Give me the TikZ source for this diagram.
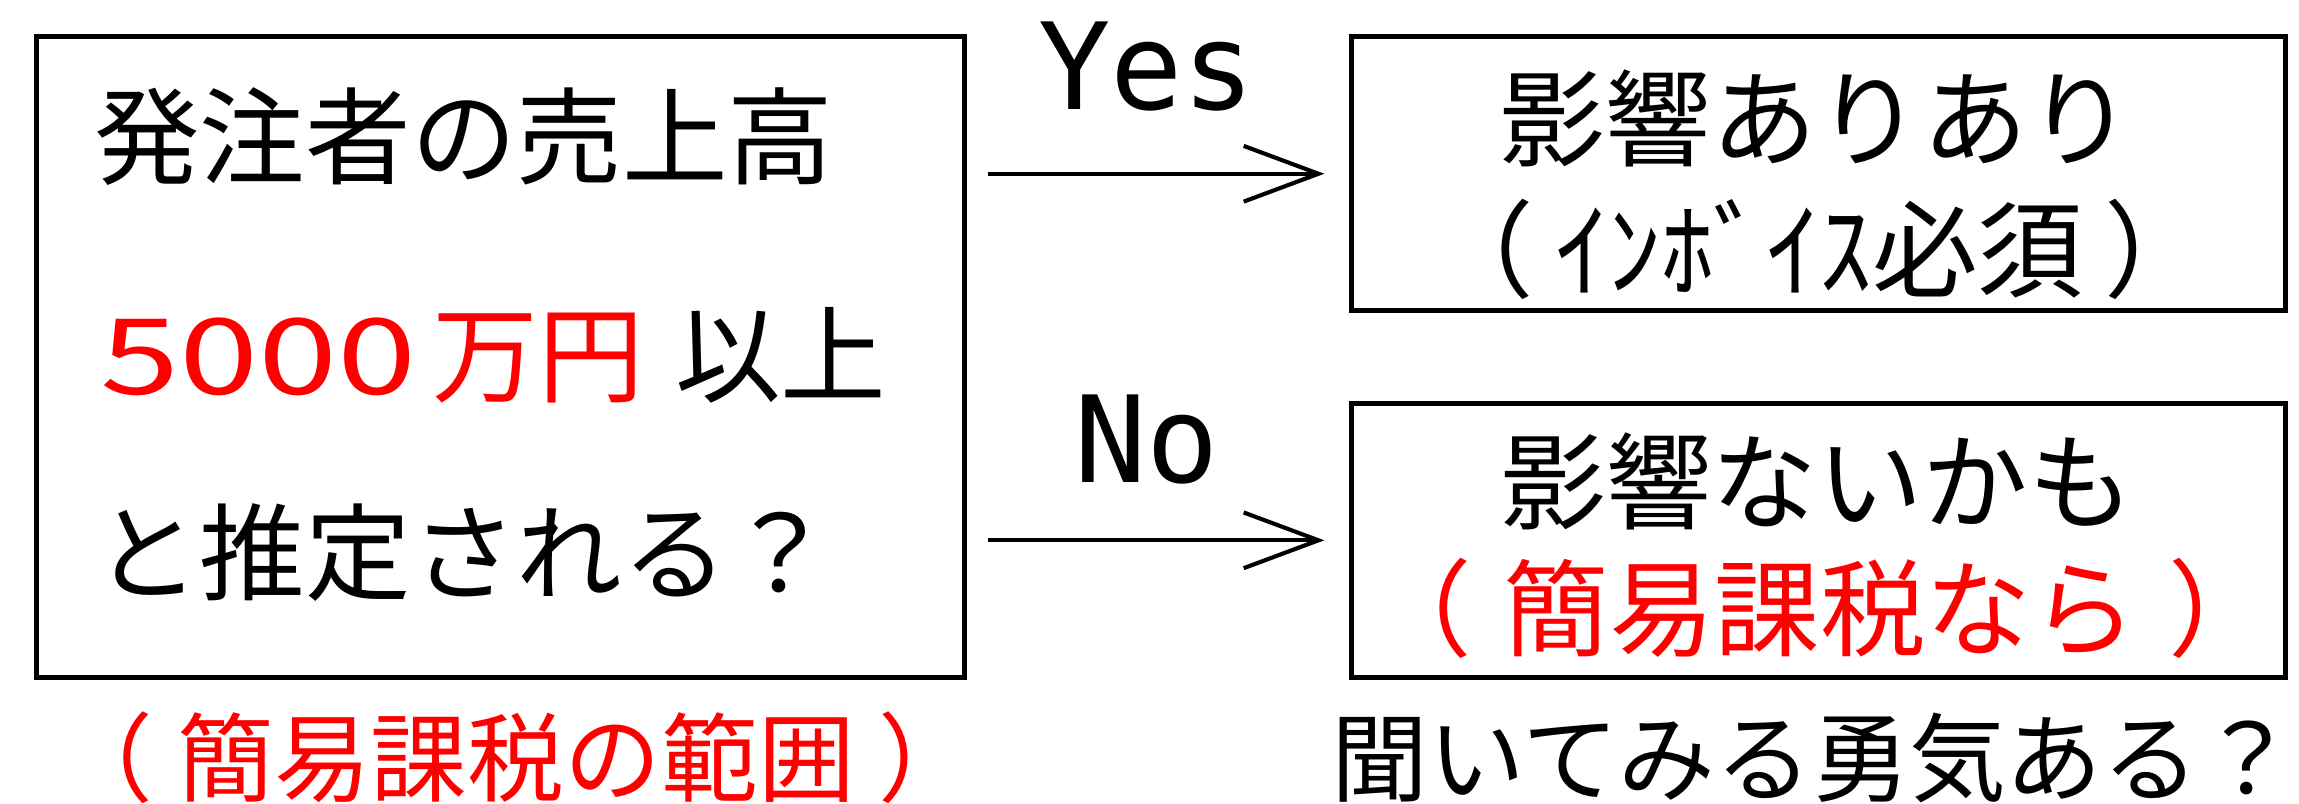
\documentclass[tikz,border=0pt]{standalone}
\usepackage{fontspec}
\setmainfont{Noto Sans CJK JP}
\newfontfamily\latmono{DejaVu Sans Mono}
\usetikzlibrary{arrows.meta}
\begin{document}
\begin{tikzpicture}[x=0.5pt,y=-0.5pt,
  box/.style={draw=black, line width=1.75pt, inner sep=0pt},
  jp/.style={inner sep=0pt, font=\fontsize{36pt}{40pt}\selectfont},
  jps/.style={inner sep=0pt, font=\fontsize{33pt}{37pt}\selectfont},
  lat/.style={inner sep=0pt, anchor=base, font=\latmono\fontsize{41pt}{45pt}\selectfont},
  arr/.style={line width=1.4pt, -{Straight Barb[length=25.5pt,width=19pt,line width=1.4pt]}, shorten <=7pt, shorten >=8.5pt}]
\useasboundingbox (0,0) rectangle (1568,548);
\node[box, minimum width=316.5pt, minimum height=218.5pt] (lbox) at (341.5,243.5) {};
\node[box, minimum width=318.5pt, minimum height=93.5pt] (rtop) at (1240.5,118.5) {};
\node[box, minimum width=318.5pt, minimum height=93.5pt] (rbot) at (1240.5,368.5) {};
\node[jp, anchor=west] (l1) at (64,93) {発注者の売上高};
\node[jp, anchor=west] (l2) at (68,242) {\textcolor{red}{\scalebox{1.35}[1]{5000}\hspace{0.15em}万円}\hspace{0.3em}以上};
\node[jp, anchor=west] (l3) at (64,377) {と推定される？};
\node[jps, text=red] (note1) at (352,517) {（\hspace{0.25em}簡易課税の範囲\hspace{0.25em}）};
\node[jp] (t1) at (1239,81) {影響ありあり};
\node[jp] (t2) at (1241,170) {（\hspace{0.2em}ｲﾝﾎﾞｲｽ必須\hspace{0.2em}）};
\node[jp] (b1) at (1239.5,328) {影響ないかも};
\node[jp, text=red] (b2) at (1241.5,415) {（\hspace{0.3em}簡易課税なら\hspace{0.3em}）};
\node[jps] (q) at (1237,517) {聞いてみる勇気ある？};
\node[lat] (yes) at (782,75) {Yes};
\node[lat] (no) at (782,329) {No};
\draw[arr] (lbox.east |- rtop.west) -- (rtop.west);
\draw[arr] (lbox.east |- rbot.west) -- (rbot.west);
\end{tikzpicture}
\end{document}
